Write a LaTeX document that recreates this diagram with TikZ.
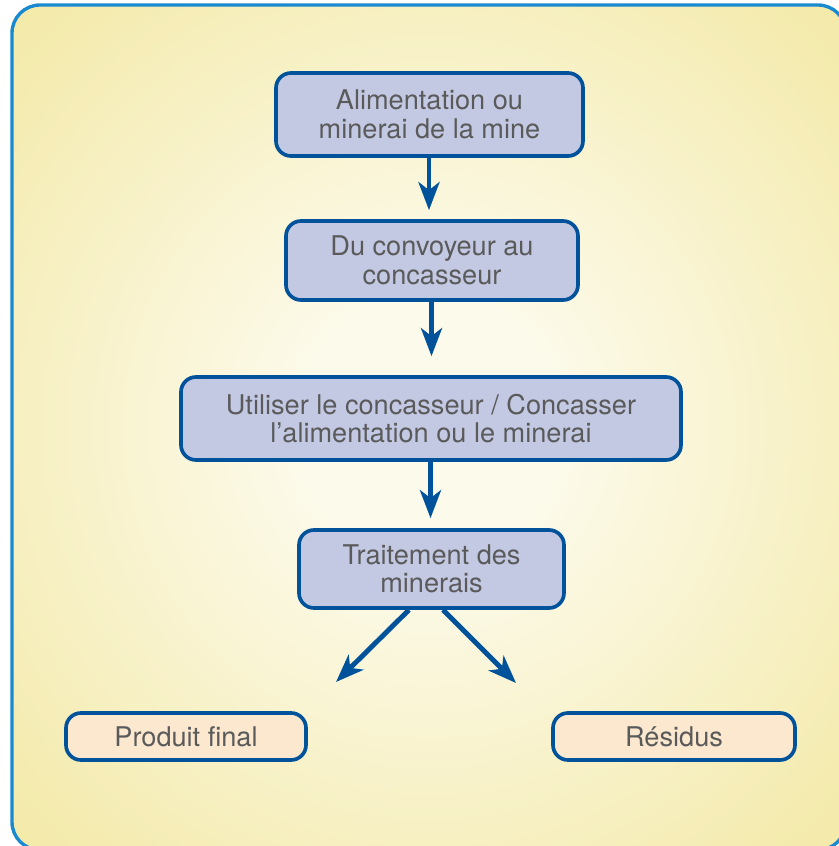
\documentclass[tikz,border=0pt]{standalone}
\usepackage{fontspec}
\setsansfont{TeX Gyre Heros}
\usepackage{tikz}
\usetikzlibrary{arrows.meta,positioning}
\definecolor{framebl}{HTML}{1A8AD0}
\definecolor{boxbl}{HTML}{00529B}
\definecolor{stepfill}{HTML}{C3C9E3}
\definecolor{endfill}{HTML}{FBE8CF}
\definecolor{txtgray}{HTML}{5A5A5A}
\definecolor{bgin}{HTML}{FCFAEA}
\definecolor{bgout}{HTML}{F2E69C}
\pgfdeclareradialshading{bgglow}{\pgfpoint{0bp}{0bp}}{color(0bp)=(bgin); color(8bp)=(bgin); color(40bp)=(bgout); color(50bp)=(bgout)}
\newcommand\pxsize{0.025}
\tikzset{stepbox/.style={rectangle, rounded corners=15*\pxsize cm, draw=boxbl, line width=2.6pt, fill=stepfill, text=txtgray, align=center, font=\sffamily\fontsize{19.3}{20.3}\selectfont, inner sep=0pt}}
\tikzset{endbox/.style={stepbox, fill=endfill}}
\tikzset{arrow/.style={draw=boxbl, line width=3.5pt, -{Stealth[length=28*\pxsize cm, width=21*\pxsize cm, inset=8*\pxsize cm]}}}

\begin{document}
\begin{tikzpicture}[x=\pxsize cm, y=-\pxsize cm]
\useasboundingbox (0,0) rectangle (839,846);
\begin{scope}
\clip (0,0) rectangle (839,846);
\shadedraw[rounded corners=28*\pxsize cm, shading=bgglow, draw=framebl, line width=2.4pt] (12,5) rectangle (846,850);
\end{scope}

\node[stepbox, minimum width=307*\pxsize cm, minimum height=83*\pxsize cm] (feed) at (429.5,114.5) {Alimentation ou\\minerai de la mine};
\node[stepbox, minimum width=292*\pxsize cm, minimum height=79*\pxsize cm] (conv) at (432,260.5) {Du convoyeur au\\concasseur};
\node[stepbox, minimum width=500*\pxsize cm, minimum height=83*\pxsize cm] (crush) at (431,418.5) {Utiliser le concasseur / Concasser\\l’alimentation ou le minerai};
\node[stepbox, minimum width=265*\pxsize cm, minimum height=78*\pxsize cm] (proc) at (431.5,569) {Traitement des\\minerais};
\node[endbox, minimum width=240*\pxsize cm, minimum height=47*\pxsize cm] (prod) at (186,736.5) {Produit final};
\node[endbox, minimum width=242*\pxsize cm, minimum height=47*\pxsize cm] (resid) at (674,736.5) {Résidus};

\coordinate (tipL) at (336,682);
\coordinate (tipR) at (516,683);

\foreach \a/\b/\s in {feed/conv/9, conv/crush/19, crush/proc/10} {
	\draw[arrow, shorten >=\s*\pxsize cm] ([xshift=-0.5*\pxsize cm]\a.south) -- ([xshift=-0.5*\pxsize cm]\a.south |- \b.north);
}
\draw[arrow] ([xshift=-22.5*\pxsize cm]proc.south) -- (tipL);
\draw[arrow] ([xshift=11.5*\pxsize cm]proc.south) -- (tipR);
\end{tikzpicture}
\end{document}
